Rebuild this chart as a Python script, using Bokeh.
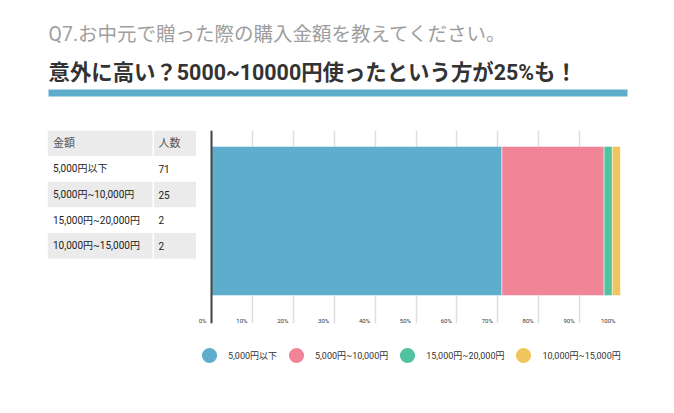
import numpy as np
from bokeh.plotting import figure
from bokeh.layouts import column, row
from bokeh.models import (Range1d, ColumnDataSource, Grid, FixedTicker, BoxAnnotation,
                          Span, LabelSet, Label, Legend, LegendItem)
from bokeh.core.properties import value
from bokeh.embed import file_html
from bokeh.resources import INLINE

# ---------------- data ----------------
title_main = "Q7.お中元で贈った際の購入金額を教えてください。"
title_sub = "意外に高い？5000~10000円使ったという方が25%も！"
table_header = ["金額", "人数"]
categories = ["5,000円以下", "5,000円~10,000円", "15,000円~20,000円", "10,000円~15,000円"]
counts = [71, 25, 2, 2]
colors = ["#5eadcc", "#ef8597", "#50c39e", "#f0c55d"]
tick_values = [0, 10, 20, 30, 40, 50, 60, 70, 80, 90, 100]
tick_labels = ["0%", "10%", "20%", "30%", "40%", "50%", "60%", "70%", "80%", "90%", "100%"]

FONT = "Roboto, 'Noto Sans CJK JP', sans-serif"
BAND = "#5eadcc"
ROW_GRAY = "#ebebeb"

# ---------------- header (pixel-like layout space) ----------------
header = figure(width=674, height=118, output_backend="svg", toolbar_location=None,
                x_range=Range1d(0, 674), y_range=Range1d(118, 0),
                x_axis_location=None, y_axis_location=None,
                min_border_left=0, min_border_right=0, min_border_top=0, min_border_bottom=0,
                background_fill_color="white", border_fill_color="white", outline_line_color=None)
header.grid.visible = False
header.add_layout(BoxAnnotation(left=48, right=627, top=89, bottom=96,
                                fill_color=BAND, fill_alpha=1, line_color=None))
header.add_layout(Label(x=48, y=34, text=title_main,
                        text_font=FONT, text_font_size="19.5px", text_color="#9e9e9e",
                        text_baseline="alphabetic"))
header.add_layout(Label(x=48, y=72, text=title_sub,
                        text_font=FONT, text_font_size="21.4px", text_font_style="bold",
                        text_color="#333333", text_baseline="alphabetic"))

# ---------------- table ----------------
row_names = [table_header[0]] + categories
count_texts = [table_header[1]] + [str(c) for c in counts]
row_pos = np.arange(len(row_names)) + 0.5
table = figure(width=196, height=212, output_backend="svg", toolbar_location=None,
               x_range=Range1d(0, 149), y_range=Range1d(193 / 25.6, 0),
               x_axis_location=None, y_axis_location=None,
               min_border_left=47, min_border_right=0, min_border_top=12, min_border_bottom=7,
               background_fill_color="white", border_fill_color="white", outline_line_color=None)
table.grid.visible = False
shaded = row_pos[0::2]
col1_right, col2_left, table_right = 105, 106.5, 149
table.hbar(y=shaded, height=1, left=0, right=col1_right, fill_color=ROW_GRAY, line_color=None)
table.hbar(y=shaded, height=1, left=col2_left, right=table_right, fill_color=ROW_GRAY, line_color=None)
table.text(x=[5.5], y=row_pos[:1], text=row_names[:1], text_font=value(FONT),
           text_font_size="11px", text_color="#555555", text_baseline="middle")
table.text(x=[111], y=row_pos[:1], text=count_texts[:1], text_font=value(FONT),
           text_font_size="11px", text_color="#555555", text_baseline="middle")
table.text(x=[5.5] * len(categories), y=row_pos[1:], text=categories, text_font=value(FONT),
           text_font_size="10px", text_color="#222222", text_baseline="middle")
table.text(x=[111] * len(categories), y=row_pos[1:], text=count_texts[1:], text_font=value(FONT),
           text_font_size="10px", text_color="#222222", text_baseline="middle")

# ---------------- chart ----------------
vals = np.array(counts, dtype=float)
pct = vals / vals.sum() * 100
right = np.cumsum(pct)
left = right - pct

chart = figure(width=478, height=212, output_backend="svg", toolbar_location=None,
               x_range=Range1d(-3.67, 100), y_range=Range1d(-0.688, 0.607),
               x_axis_location=None, y_axis_location=None,
               min_border_left=0, min_border_right=54, min_border_top=12, min_border_bottom=7,
               background_fill_color="white", border_fill_color="white", outline_line_color=None)
chart.grid.visible = False
chart.add_layout(Grid(dimension=0, ticker=FixedTicker(ticks=tick_values),
                      grid_line_color="#dedede", grid_line_width=1.5))

src = ColumnDataSource(dict(y=[0] * len(categories), left=left, right=right, color=colors))
chart.hbar(y="y", height=1, left="left", right="right", fill_color="color",
           line_color="white", line_width=0.8, line_alpha=0.6, source=src)

chart.add_layout(Span(location=0, dimension="height", line_color="#444444", line_width=2))

tick_src = ColumnDataSource(dict(x=tick_values, y=[chart.y_range.start] * len(tick_values),
                                 text=tick_labels))
chart.add_layout(LabelSet(x="x", y="y", text="text", source=tick_src, x_offset=-5,
                          text_align="right", text_baseline="bottom", text_font=value(FONT),
                          text_font_size="6px", text_color="#333333"))

# ---------------- legend strip ----------------
legend_fig = figure(width=674, height=83, output_backend="svg", toolbar_location=None,
                    x_range=Range1d(0, 1), y_range=Range1d(0, 1),
                    x_axis_location=None, y_axis_location=None,
                    min_border_left=0, min_border_right=0, min_border_top=0, min_border_bottom=0,
                    background_fill_color="white", border_fill_color="white", outline_line_color=None)
legend_fig.grid.visible = False
items = []
for i, (cat, col) in enumerate(zip(categories, colors)):
    r = legend_fig.scatter(x=[pct[i] / 100], y=[0.5], marker="circle", size=15,
                           fill_color=col, line_color=None)
    r.visible = False
    items.append(LegendItem(label=cat, renderers=[r]))

legend = Legend(items=items, orientation="horizontal", location=(190, 39),
                glyph_width=38, glyph_height=38, label_standoff=0, spacing=-1,
                padding=0, margin=0, border_line_color=None, background_fill_alpha=0,
                label_text_font=FONT, label_text_font_size="9px", label_text_color="#333333",
                click_policy="none")
legend_fig.add_layout(legend)

layout = column(header, row(table, chart), legend_fig)
open("out.html", "w").write(file_html(layout, INLINE))
